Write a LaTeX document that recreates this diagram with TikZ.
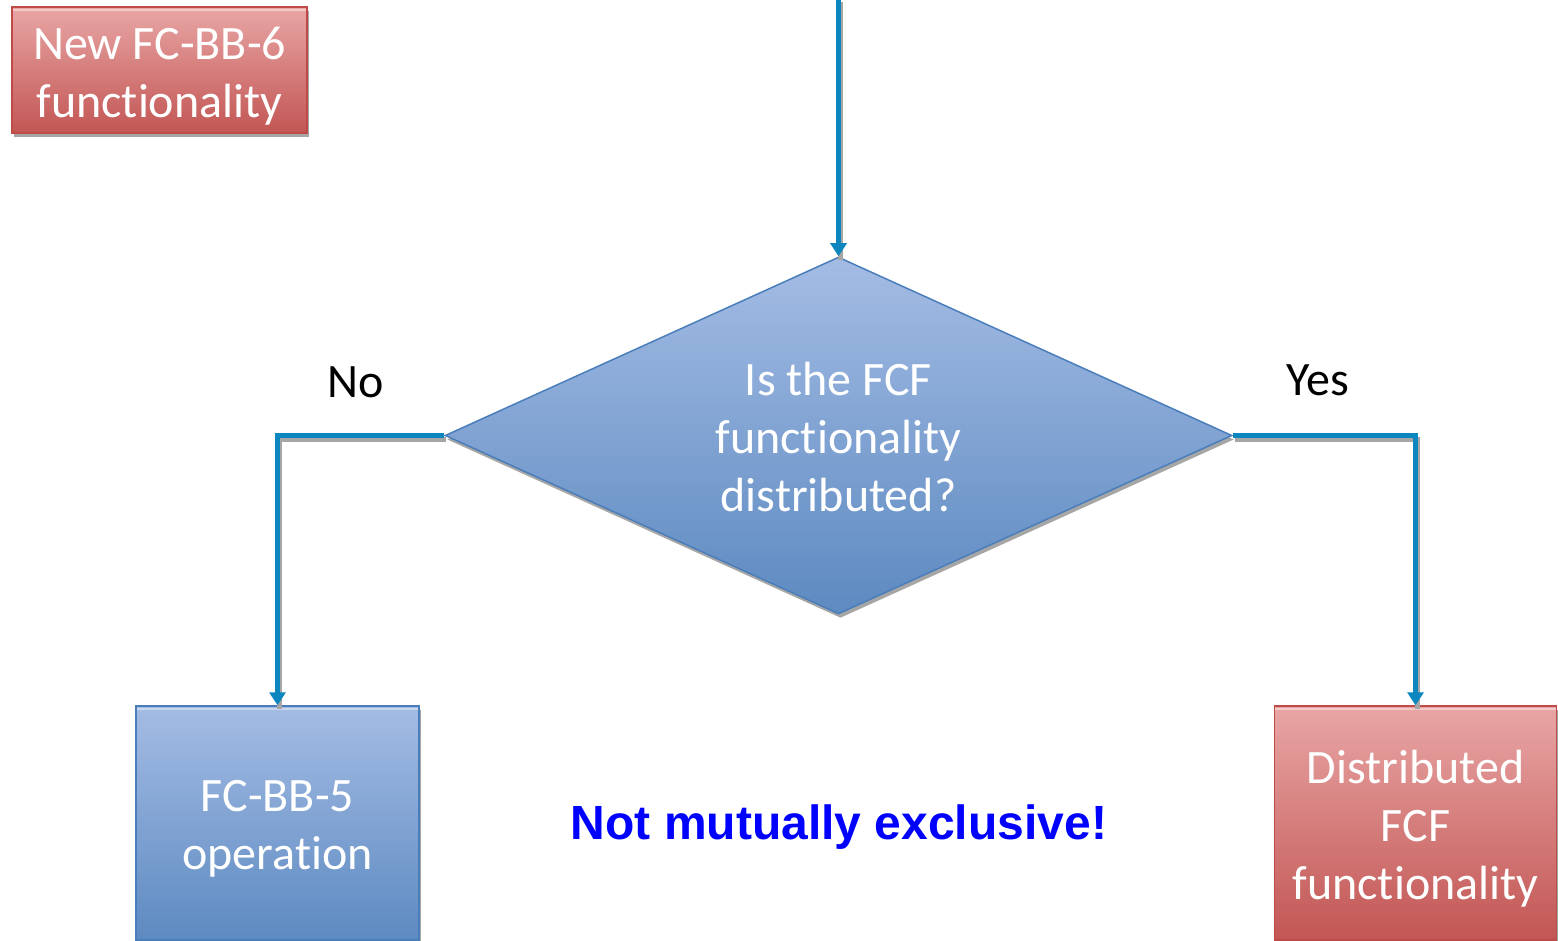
\documentclass[tikz,border=0pt]{standalone}
\usepackage{fontspec}
\setmainfont{Carlito}[Ligatures={NoCommon,NoContextual,NoRare}]
\newfontfamily\arialfont{Liberation Sans}
\newcommand\tiNL{t\kern0pt i}
\usetikzlibrary{shapes.geometric,arrows.meta,shadows}
\definecolor{conncol}{HTML}{0B86BE}
\definecolor{redtop}{HTML}{E8A6A5}
\definecolor{redbot}{HTML}{C25654}
\definecolor{redline}{HTML}{BE4B48}
\definecolor{bluetop}{HTML}{A4BCE4}
\definecolor{bluebot}{HTML}{5D8AC1}
\definecolor{blueline}{HTML}{4A7EBB}
\definecolor{shadowgray}{HTML}{A6A6A6}
\begin{document}
\begin{tikzpicture}[x=1pt,y=-1pt,
  boxtext/.style={text=white,align=center,font=\fontsize{48}{58}\selectfont},
  shd/.style={drop shadow={shadow xshift=2pt,shadow yshift=-4pt,fill=shadowgray,opacity=1}},
  hilite/.style={path picture={\draw[#1,line width=2.5pt]
      ([yshift=-3pt]path picture bounding box.north west) -- ([yshift=-3pt]path picture bounding box.north east);}},
  redbox/.style={rectangle,shd,draw=redline,line width=1.5pt,top color=redtop,bottom color=redbot,inner sep=0pt,hilite=white!40!redtop},
  bluebox/.style={rectangle,shd,draw=blueline,line width=1.5pt,top color=bluetop,bottom color=bluebot,inner sep=0pt,hilite=white!40!bluetop},
  decision/.style={diamond,shd,draw=blueline,line width=1.5pt,top color=bluetop,bottom color=bluebot,inner sep=0pt,aspect=2.2},
  inner/.style={label={[boxtext,yshift=-#1]center:{}}},
  conn/.style={draw=conncol,line width=5pt,-{Triangle[width=16pt,length=13pt]},
    preaction={draw=shadowgray,line width=5pt,-,transform canvas={shift={(2pt,-4pt)}}}},
  lbl/.style={text=black,font=\fontsize{48}{56}\selectfont}
]
\useasboundingbox (0,0) rectangle (1558,941);
\node[redbox,minimum width=295pt,minimum height=126pt,
  label={[boxtext,yshift=-6pt]center:{New FC-BB-6\\func\tiNL onality}}] (newfc) at (159.5,70) {};
\node[decision,minimum width=787pt,minimum height=357pt,
  label={[boxtext,yshift=-2pt]center:{Is the FCF\\func\tiNL onality\\distributed?}}] (dec) at (838.5,435.5) {};
\node[bluebox,minimum width=283pt,minimum height=234pt,
  label={[boxtext,yshift=-6pt]center:{FC-BB-5\\opera\tiNL on}}] (fcbb5) at (277.5,823) {};
\node[redbox,minimum width=282pt,minimum height=234pt,
  label={[boxtext,yshift=-6pt]center:{Distributed\\FCF\\func\tiNL onality}}] (dist) at (1415.5,823) {};
\coordinate (start) at (838.5,-2);
\draw[conn] (start) -- (dec.north);
\draw[conn] (dec.west) -| (fcbb5.north);
\draw[conn] (dec.east) -| (dist.north);
\node[lbl] (no) at (356,382) {No};
\node[lbl] (yes) at (1318,380) {Yes};
\node[text={rgb,255:red,0;green,0;blue,255},font=\arialfont\bfseries\fontsize{48}{56}\selectfont] (note) at (839,827) {Not mutually exclusive!};
\end{tikzpicture}
\end{document}
